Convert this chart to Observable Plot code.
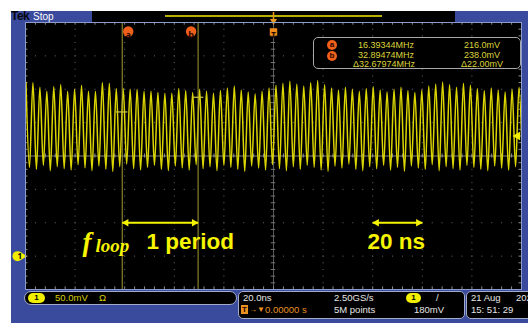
<!DOCTYPE html>
<html><head><meta charset="utf-8">
<script src="https://cdn.jsdelivr.net/npm/d3@7"></script>
<script src="https://cdn.jsdelivr.net/npm/@observablehq/plot@0.6"></script>
<style>
html,body{margin:0;padding:0;background:#fff;}
#scope{position:relative;width:528px;height:323px;overflow:hidden;background:#fff;font-family:"Liberation Sans",Arial,sans-serif;}
.abs{position:absolute;white-space:nowrap;}
.t{font-size:9.5px;line-height:12px;height:12px;color:#e6e6e6;}
.ro{font-size:9px;line-height:11px;height:11px;color:#dcd43c;}
.panel{box-sizing:border-box;background:#000;border:1px solid #a3abc9;}
.pill{box-sizing:border-box;background:#f2ee00;color:#000;font-weight:bold;font-size:8px;text-align:center;border-radius:6px;}
.circ{box-sizing:border-box;background:#f0601a;color:#2a0600;font-weight:bold;font-size:8px;line-height:10px;text-align:center;border-radius:50%;width:10px;height:10px;}
</style></head><body>
<div id="scope"></div>
<script>
// ---------------- data ----------------
const timeDomain = [-100, 100];          // ns, 20 ns/div, 10 div
const voltDomain = [-50, 350];           // mV, 50 mV/div, 8 div
const divTimes = [-80, -60, -40, -20, 0, 20, 40, 60, 80];
const divVolts = [0, 50, 100, 150, 200, 250, 300];
const centerVolt = 150;
const groundLevel = 0;                   // channel 1 ground marker (mV)
const triggerLevel = 180;                // mV
const triggerTime = 0;                   // ns
const firstPeakTime = -99.8;             // ns
const samplePeriod = 2.80;               // ns between successive peaks
const peakHigh = [260,260,253,247,254,257,247,250,256,247,247,260,259,251,251,250,250,247,247,245,244,244,251,248,245,
                  250,247,244,248,252,255,249,246,243,247,252,256,259,262,258,255,260,263,257,252,249,253,250,247,251,
                  254,249,246,250,253,248,245,249,255,258,261,257,253,259,256,251,248,252,249,246,250,253];
const peakLow  = [133,130,136,128,134,131,129,137,132,128,135,130,127,134,138,131,129,133,136,130,128,135,132,129,137,
                  131,134,128,136,133,130,127,135,132,129,137,131,128,134,130,136,133,129,127,135,132,138,130,128,134,
                  131,136,129,133,127,135,132,130,137,128,134,131,129,136,133,130,128,135,132,129,134,131];
const cursorNames  = ["a", "b"];
const cursorTimes  = [-61.0, -30.4];     // ns
const cursorLevels = [216.0, 238.0];     // mV
const readoutFreq = ["16.39344MHz", "32.89474MHz", "\u039432.67974MHz"];
const readoutVolt = ["216.0mV", "238.0mV", "\u039422.00mV"];
const scaleArrowTimes = [40, 60];        // the "20 ns" arrow
const arrowLevel = 50;                   // mV
const labelTexts = ["1 period", "20 ns"];
const labelTimes = [-51.2, 37.9];
const labelLevel = 11;
const statusV = "50.0mV", statusH = "20.0ns", statusPos = "0.00000 s", statusRate = "2.50GS/s",
      statusPts = "5M points", statusTrig = "180mV", statusDate = "21 Aug", statusYear = "2020", statusTime = "15: 51: 29";

// ---------------- build ----------------
const wave = [];
peakHigh.forEach((v, i) => {
  wave.push({t: firstPeakTime + i * samplePeriod, v});
  if (i < peakLow.length) wave.push({t: firstPeakTime + (i + 0.5) * samplePeriod, v: peakLow[i]});
});
const cursors = cursorNames.map((n, i) => ({n, t: cursorTimes[i], v: cursorLevels[i]}));
const arrows = [{x1: cursorTimes[0], x2: cursorTimes[1]}, {x1: scaleArrowTimes[0], x2: scaleArrowTimes[1]}];
const labels = labelTexts.map((s, i) => ({s, t: labelTimes[i], v: labelLevel}));
const minorX = d3.range(timeDomain[0], timeDomain[1] + 0.001, 4);
const minorY = d3.range(voltDomain[0], voltDomain[1] + 0.001, 10);

const W = 528, H = 323, mL = 25, mT = 22, mR = 7, mB = 34;
const pxX = (W - mL - mR) / 50, pxY = (H - mT - mB) / 40; // px per minor step
const gridCol = "#6a6a6a", yel = "#f6f400", wav = "#dcd600", cur = "#a49c34", ora = "#f0601a";

const chart = Plot.plot({
  width: W, height: H, marginLeft: mL, marginTop: mT, marginRight: mR, marginBottom: mB,
  x: {domain: timeDomain, axis: null},
  y: {domain: voltDomain, axis: null},
  style: {background: "transparent", overflow: "visible"},
  marks: [
    Plot.frame({fill: "#000"}),
    Plot.ruleY(divVolts, {stroke: gridCol, strokeDasharray: `1 ${pxX - 1}`}),
    Plot.ruleX(divTimes, {stroke: gridCol, strokeDasharray: `1 ${pxY - 1}`}),
    Plot.ruleY([centerVolt], {stroke: "#8c8c8c", strokeOpacity: 0.9}),
    Plot.ruleX([triggerTime], {stroke: "#5a5a5a"}),
    Plot.ruleX(minorX, {x: d => d, y1: centerVolt - 3, y2: centerVolt + 3, stroke: "#8c8c8c"}),
    Plot.ruleY(minorY, {y: d => d, x1: -0.9, x2: 0.9, stroke: "#777"}),
    Plot.ruleX(minorX, {x: d => d, y1: voltDomain[1], y2: voltDomain[1] - 4, stroke: "#8a8a8a"}),
    Plot.ruleX(minorX, {x: d => d, y1: voltDomain[0], y2: voltDomain[0] + 4, stroke: "#8a8a8a"}),
    Plot.ruleY(minorY, {y: d => d, x1: timeDomain[0], x2: timeDomain[0] + 1, stroke: "#8a8a8a"}),
    Plot.ruleY(minorY, {y: d => d, x1: timeDomain[1] - 1, x2: timeDomain[1], stroke: "#8a8a8a"}),
    Plot.line(wave, {x: "t", y: "v", stroke: wav, strokeWidth: 1.5, curve: "catmull-rom", clip: true}),
    Plot.ruleX(cursors, {x: "t", stroke: cur, strokeWidth: 1}),
    Plot.ruleY(cursors, {y: "v", x1: d => d.t - 2.3, x2: d => d.t + 2.3, stroke: "#d0c840", strokeWidth: 1.2}),
    Plot.dot([cursors[0]], {x: "t", frameAnchor: "top", dy: 9, dx: 6, r: 5.2, fill: ora}),
    Plot.dot([cursors[1]], {x: "t", frameAnchor: "top", dy: 9, dx: -7, r: 5.2, fill: ora}),
    Plot.text([cursors[0]], {x: "t", text: "n", frameAnchor: "top", dy: 9, dx: 6, fill: "#2a0600", fontWeight: "bold", fontSize: 9}),
    Plot.text([cursors[1]], {x: "t", text: "n", frameAnchor: "top", dy: 9, dx: -7, fill: "#2a0600", fontWeight: "bold", fontSize: 9}),
    // trigger position markers
    Plot.dot([triggerTime], {x: d => d, frameAnchor: "top", dy: 9.5, symbol: "square", r: 4.2, fill: "#f08a18"}),
    Plot.text([triggerTime], {x: d => d, text: () => "T", frameAnchor: "top", dy: 9.5, fill: "#2a0a00", fontWeight: "bold", fontSize: 8}),
    Plot.ruleX([triggerTime], {x: d => d, y1: voltDomain[1] + 15, y2: voltDomain[1] + 4, stroke: "#e89a20", strokeWidth: 1.5, clip: false}),
    Plot.dot([triggerTime], {x: d => d, frameAnchor: "top", dy: -1.5, symbol: "triangle", rotate: 180, r: 2.6, fill: "#e89a20"}),
    // ground + trigger-level markers
    Plot.dot([groundLevel], {y: d => d, frameAnchor: "left", dx: -8, r: 5, fill: "#f2ee00"}),
    Plot.dot([groundLevel], {y: d => d, frameAnchor: "left", dx: -3, symbol: "triangle", rotate: 90, r: 3, fill: "#f2ee00"}),
    Plot.text([groundLevel], {y: d => d, text: () => "1", frameAnchor: "left", dx: -8, fill: "#000", fontWeight: "bold", fontSize: 8}),
    Plot.dot([triggerLevel], {y: d => d, frameAnchor: "right", dx: -4, symbol: "triangle", rotate: -90, r: 3.2, fill: "#f2ee00"}),
    // annotations
    Plot.link(arrows, {x1: "x1", x2: "x2", y1: () => arrowLevel, y2: () => arrowLevel, stroke: yel, strokeWidth: 2}),
    Plot.dot(arrows, {x: "x1", y: () => arrowLevel, dx: 4, symbol: "triangle", rotate: -90, r: 2.8, fill: yel}),
    Plot.dot(arrows, {x: "x2", y: () => arrowLevel, dx: -4, symbol: "triangle", rotate: 90, r: 2.8, fill: yel}),
    Plot.text(labels, {x: "t", y: "v", text: "s", textAnchor: "start", lineAnchor: "bottom", fill: yel, fontWeight: "bold", fontSize: 22.5, fontFamily: "Liberation Sans, Arial, sans-serif"}),
    Plot.text([labelLevel], {x: () => -77, y: () => 8, text: () => "f", textAnchor: "start", lineAnchor: "bottom", fill: yel, fontStyle: "italic", fontWeight: "bold", fontSize: 27, fontFamily: "Liberation Serif, serif"}),
    Plot.text([labelLevel], {x: () => -71.8, y: () => 6, text: () => "loop", textAnchor: "start", lineAnchor: "bottom", fill: yel, fontStyle: "italic", fontWeight: "bold", fontSize: 19, fontFamily: "Liberation Serif, serif"}),
    Plot.frame({stroke: "#8c9ccc"})
  ]
});

const scope = document.getElementById("scope");
const add = (html) => scope.insertAdjacentHTML("beforeend", html);
add(`<div class="abs" style="left:11px;top:11px;width:517px;height:312px;background:#3a4a9c"></div>`);
add(`<div class="abs" style="left:92px;top:11px;width:363px;height:11px;background:#000"></div>`);
add(`<div class="abs" style="left:165px;top:15px;width:217px;height:1.5px;background:#b8b000"></div>`);
add(`<div class="abs" style="left:11px;top:10px;font:bold 12px/13px 'Liberation Sans';color:#050510;letter-spacing:-0.5px">Tek</div>`);
add(`<div class="abs" style="left:33px;top:10px;font:10px/13px 'Liberation Sans';color:#fff">Stop</div>`);
chart.style.position = "absolute"; chart.style.left = "0px"; chart.style.top = "0px";
scope.appendChild(chart);

// cursor readout box
add(`<div class="abs panel" style="left:313px;top:37px;width:208px;height:32px;border-radius:5px;border-color:#a8a8a8"></div>`);
const rowY = [45, 55.5, 64.3];
cursorNames.forEach((n, i) => add(`<div class="abs circ" style="left:327px;top:${rowY[i] - 5}px">${n}</div>`));
readoutFreq.forEach((s, i) => add(`<div class="abs ro" style="left:${i < 2 ? 358 : 353}px;top:${rowY[i] - 5.5}px">${s}</div>`));
readoutVolt.forEach((s, i) => add(`<div class="abs ro" style="left:${i < 2 ? 464 : 461}px;top:${rowY[i] - 5.5}px">${s}</div>`));

// status bar
add(`<div class="abs panel" style="left:24px;top:291px;width:213px;height:14px;border-radius:7px"></div>`);
add(`<div class="abs pill" style="left:28px;top:293px;width:17px;height:10px;line-height:10px">1</div>`);
add(`<div class="abs t" style="left:55px;top:292px;color:#d8d000">${statusV}</div>`);
add(`<div class="abs t" style="left:99px;top:292px;color:#d8d000">\u03A9</div>`);
add(`<div class="abs panel" style="left:238px;top:291px;width:227px;height:28px;border-radius:5px"></div>`);
add(`<div class="abs panel" style="left:466px;top:291px;width:80px;height:28px;border-radius:5px"></div>`);
add(`<div class="abs t" style="left:243px;top:291.5px">${statusH}</div>`);
add(`<div class="abs" style="left:241px;top:305px;width:7px;height:9px;background:#e89020;color:#200;font:bold 8px/9px 'Liberation Sans';text-align:center">T</div>`);
add(`<div class="abs t" style="left:249px;top:303.5px;color:#e89020;font-size:8px">\u2192\u25BC</div>`);
add(`<div class="abs t" style="left:265px;top:303.5px;color:#e89020">${statusPos}</div>`);
add(`<div class="abs t" style="left:334px;top:291.5px">${statusRate}</div>`);
add(`<div class="abs t" style="left:334px;top:303.5px">${statusPts}</div>`);
add(`<div class="abs pill" style="left:406px;top:292.5px;width:15px;height:10px;line-height:10px">1</div>`);
add(`<div class="abs t" style="left:436px;top:291.5px">/</div>`);
add(`<div class="abs t" style="left:414px;top:303.5px">${statusTrig}</div>`);
add(`<div class="abs t" style="left:471px;top:291.5px">${statusDate}</div>`);
add(`<div class="abs t" style="left:516px;top:291.5px">${statusYear}</div>`);
add(`<div class="abs t" style="left:471px;top:303.5px">${statusTime}</div>`);
</script>
</body></html>
